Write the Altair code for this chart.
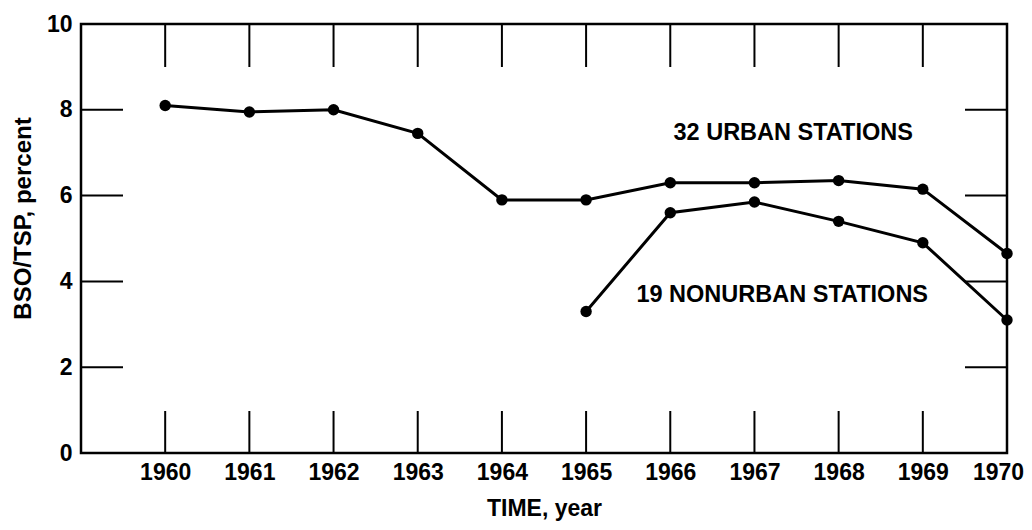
import altair as alt
import pandas as pd

# ---- data ----
urban_years = [1960, 1961, 1962, 1963, 1964, 1965, 1966, 1967, 1968, 1969, 1970]
urban_values = [8.1, 7.95, 8.0, 7.45, 5.9, 5.9, 6.3, 6.3, 6.35, 6.15, 4.65]
nonurban_years = [1965, 1966, 1967, 1968, 1969, 1970]
nonurban_values = [3.3, 5.6, 5.85, 5.4, 4.9, 3.1]
x_tick_values = [1960, 1961, 1962, 1963, 1964, 1965, 1966, 1967, 1968, 1969, 1970]
y_tick_values = [0, 2, 4, 6, 8, 10]
series_labels = ["32 URBAN STATIONS", "19 NONURBAN STATIONS"]

# annotation anchor points (data units)
label_x = [1967.46, 1967.33]
label_y = [7.46, 3.69]

FONT = "Liberation Sans"
W, H = 926, 429
TICK = 42

df = pd.DataFrame({
    "year": urban_years + nonurban_years,
    "value": urban_values + nonurban_values,
    "series": ["urban"] * len(urban_years) + ["nonurban"] * len(nonurban_years),
})
ann = pd.DataFrame({"x": label_x, "y": label_y, "label": series_labels})
inner_y = pd.DataFrame({"v": y_tick_values[1:-1]})
inner_x = pd.DataFrame({"t": x_tick_values[:-1]})

xs = alt.Scale(domain=[1959, 1970], nice=False, zero=False)
ys = alt.Scale(domain=[0, 10], nice=False)

x_axis = alt.Axis(
    values=x_tick_values, format="d", title="TIME, year", ticks=False, domain=False,
    grid=False, labelPadding=8, labelFont=FONT, labelFontSize=23, labelFontWeight="bold",
    labelColor="black", titleFont=FONT, titleFontSize=23, titleFontWeight="bold",
    titleColor="black", titleY=62, titleBaseline="alphabetic", labelFlush=False,
    labelOverlap=False,
    labelOffset={"condition": {"test": "datum.value == 1970", "value": -9}, "value": 0},
)
y_axis = alt.Axis(
    values=y_tick_values, title="BSO/TSP, percent", ticks=False, domain=False, grid=False,
    labelPadding=9, labelFont=FONT, labelFontSize=23, labelFontWeight="bold",
    labelColor="black", titleFont=FONT, titleFontSize=24, titleFontWeight="bold",
    titleColor="black", titleX=-58, titleY=194, titleAlign="center",
    titleBaseline="middle", titleAngle=270, labelFlush=False, labelOverlap=False,
)

base = alt.Chart(df)
lines = base.mark_line(color="black", strokeWidth=3).encode(
    x=alt.X("year:Q", scale=xs, axis=x_axis),
    y=alt.Y("value:Q", scale=ys, axis=y_axis),
    detail="series:N",
)
points = base.mark_circle(color="black", size=130, opacity=1).encode(
    x=alt.X("year:Q", scale=xs),
    y=alt.Y("value:Q", scale=ys),
)

left_ticks = alt.Chart(inner_y).mark_rule(color="black", strokeWidth=2).encode(
    y=alt.Y("v:Q", scale=ys), x=alt.value(0), x2=alt.value(TICK))
right_ticks = alt.Chart(inner_y).mark_rule(color="black", strokeWidth=2).encode(
    y=alt.Y("v:Q", scale=ys), x=alt.value(W - TICK), x2=alt.value(W))
bottom_ticks = alt.Chart(inner_x).mark_rule(color="black", strokeWidth=2).encode(
    x=alt.X("t:Q", scale=xs), y=alt.value(H), y2=alt.value(H - TICK))
top_ticks = alt.Chart(inner_x).mark_rule(color="black", strokeWidth=2).encode(
    x=alt.X("t:Q", scale=xs), y=alt.value(0), y2=alt.value(TICK + 1))

texts = alt.Chart(ann).mark_text(
    font=FONT, fontSize=23.5, fontWeight="bold", align="center", baseline="middle", color="black"
).encode(x=alt.X("x:Q", scale=xs), y=alt.Y("y:Q", scale=ys), text="label:N")

chart = (
    alt.layer(left_ticks, right_ticks, bottom_ticks, top_ticks, lines, points, texts)
    .properties(
        width=W, height=H,
        autosize=alt.AutoSizeParams(type="none"),
        padding={"left": 73, "top": 16, "right": 17, "bottom": 68},
        background="white",
    )
    .configure_view(stroke="black", strokeWidth=2.5)
)

chart.save("out.html", embed_options={"renderer": "svg", "actions": False})
